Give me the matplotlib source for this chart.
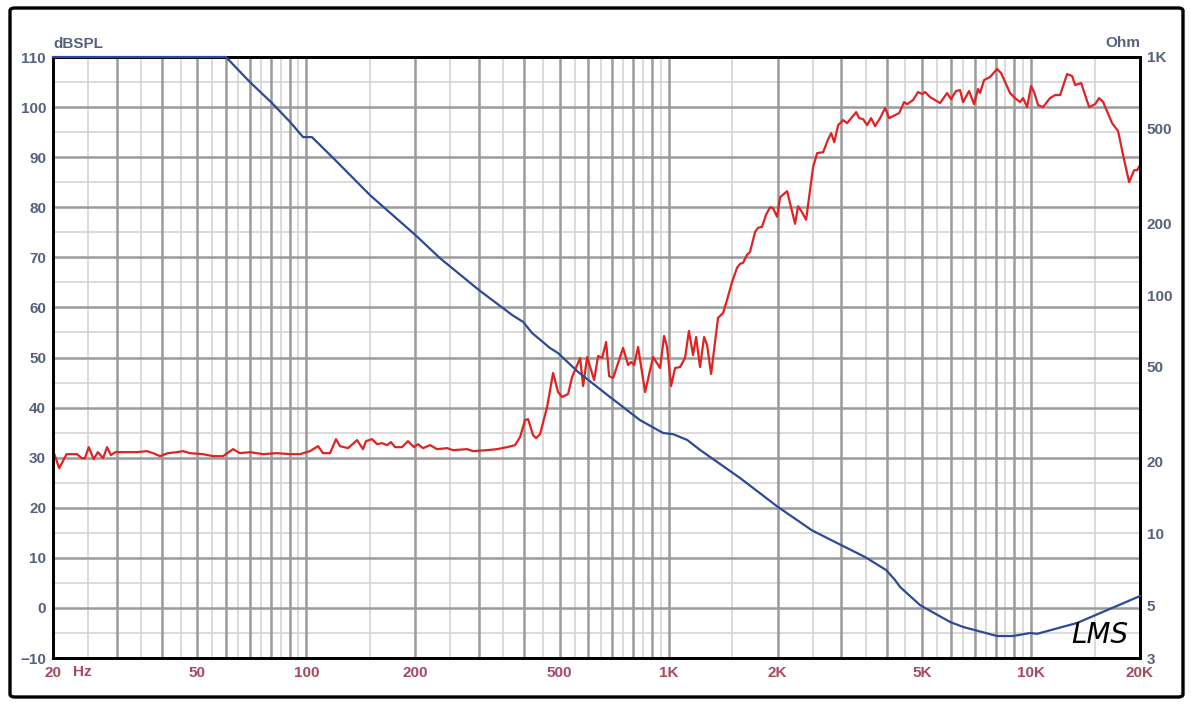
import matplotlib.pyplot as plt
from matplotlib.patches import FancyBboxPatch

# SPL response (red), frequency in Hz / level in dB
spl_freq = [20, 20.8, 21.8, 23.3, 24.0, 24.5, 25.1, 25.9, 26.6, 27.5, 28.2, 28.9, 29.7,
            32.0, 34.1, 36.3, 37.8, 39.5, 41.5, 44.0, 45.7, 47.8, 51.9, 55.3, 58.9, 62.8,
            65.6, 69.9, 76.0, 83.0, 90.2, 96.1, 102.4, 107.8, 111.2, 116.3, 120.8, 123.9,
            130.4, 138.1, 143.4, 146.2, 151.9, 156.8, 161.8, 167.1, 171.3, 175.8, 183.8,
            190.9, 198.3, 203.4, 210.0, 219.6, 229.6, 244.7, 254.2, 277.8, 288.6, 315.5,
            336.2, 358.3, 376.9, 389.0, 401.6, 409.4, 422.6, 430.8, 441.8, 462.0, 479.9,
            495.4, 508.1, 527.9, 541.5, 570.0, 580.9, 595.9, 622.9, 638.9, 655.3, 672.3,
            685.2, 702.9, 748.9, 773.1, 788.0, 803.2, 823.8, 861.3, 906.2, 947.4, 971.7,
            990.4, 1016, 1042, 1076, 1110, 1138, 1168, 1191, 1221, 1253, 1277, 1310, 1369,
            1414, 1450, 1497, 1545, 1575, 1605, 1646, 1678, 1733, 1766, 1811, 1858, 1906,
            1943, 1992, 2031, 2123, 2164, 2234, 2277, 2336, 2396, 2505, 2570, 2670, 2757,
            2810, 2865, 2938, 3032, 3110, 3293, 3356, 3442, 3531, 3622, 3715, 3835, 3959,
            4061, 4328, 4467, 4553, 4729, 4882, 5008, 5105, 5268, 5613, 5868, 6019, 6213,
            6373, 6496, 6749, 6967, 7146, 7237, 7424, 7712, 8064, 8272, 8758, 9041, 9333,
            9513, 9759, 10010, 10203, 10465, 10803, 11294, 11660, 12037, 12585, 12992,
            13242, 13758, 14477, 15039, 15424, 15822, 16750, 17401, 17965, 18665, 19268,
            19635, 20000]
spl_db = [31.5, 27.9, 30.7, 30.7, 29.9, 29.9, 32.1, 29.7, 31.1, 29.9, 32.1, 30.5, 31.1,
          31.1, 31.1, 31.3, 30.9, 30.3, 30.9, 31.1, 31.3, 30.9, 30.7, 30.3, 30.3, 31.7,
          30.9, 31.1, 30.7, 30.9, 30.7, 30.7, 31.3, 32.3, 30.9, 30.9, 33.7, 32.3,
          31.9, 33.5, 31.7, 33.3, 33.7, 32.7, 32.9, 32.5, 33.1, 32.1, 32.1,
          33.3, 32.1, 32.7, 31.9, 32.5, 31.7, 31.9, 31.5, 31.7, 31.3, 31.5,
          31.7, 32.1, 32.5, 34.1, 37.5, 37.7, 34.5, 33.9, 34.7, 40.1, 46.9,
          43.1, 42.1, 42.7, 46.1, 49.9, 44.3, 50.1, 45.5, 50.3, 49.9, 53.1,
          46.3, 45.9, 51.9, 48.5, 49.1, 48.5, 52.1, 43.1, 50.1, 47.9, 54.3,
          52.1, 44.3, 47.9, 48.1, 49.9, 55.3, 50.5, 54.1, 48.1, 54.1, 52.5, 46.7, 57.9,
          58.9, 61.5, 65.1, 67.9, 68.7, 68.9, 70.5, 71.1, 75.1, 75.9, 76.1, 78.5, 80.0,
          79.8, 78.1, 82.0, 83.2, 80.8, 76.7, 80.2, 79.0, 77.5, 88.0, 90.8, 91.0, 93.6,
          94.8, 93.0, 96.4, 97.4, 96.8, 99.0, 97.8, 97.6, 96.4, 97.8, 96.2, 97.8, 99.8,
          97.8, 98.8, 101.0, 100.6, 101.4, 103.0, 102.6, 103.0, 102.0, 100.8, 102.8, 101.6, 103.2,
          103.4, 101.0, 103.2, 100.6, 103.6, 102.8, 105.4, 106.0, 107.6, 106.8, 102.8, 101.8, 101.0,
          101.8, 100.0, 104.2, 103.0, 100.4, 100.0, 101.8, 102.4, 102.4, 106.6, 106.2,
          104.4, 104.8, 100.0, 100.6, 101.8, 101.0, 96.8, 95.2, 90.4, 85.0, 87.4,
          87.4, 88.4]

# impedance (blue), frequency in Hz / Ohm
imp_freq = [20, 60, 69.9, 80.4, 90.2, 98, 103.7, 118.6, 150, 200, 234, 300, 370, 397, 420,
            471, 495, 563, 689, 834, 966, 1029, 1125, 1222, 1574, 1992, 2488, 2992, 3486,
            3984, 4218, 4354, 4944, 5982, 6498, 8064, 8928, 9948, 10400, 13414, 15520, 20000]
imp_ohm = [1000, 1000, 785, 641, 534, 461, 461, 377, 263, 179, 143, 105, 82.6, 77.2, 69.4,
           60, 57.2, 47.6, 37.4, 29.9, 26.4, 26.1, 24.7, 22.4, 17.1, 13.0, 10.3, 8.94, 7.96,
           7.02, 6.37, 5.96, 5.0, 4.25, 4.05, 3.71, 3.71, 3.82, 3.79, 4.21, 4.63, 5.46]

x_ticks = [20, 50, 100, 200, 500, 1000, 2000, 5000, 10000, 20000]
x_labels = ["20", "50", "100", "200", "500", "1K", "2K", "5K", "10K", "20K"]
db_ticks = list(range(-10, 111, 10))
ohm_ticks = [3, 5, 10, 20, 50, 100, 200, 500, 1000]
ohm_labels = ["3", "5", "10", "20", "50", "100", "200", "500", "1K"]

W, H = 1191, 708
slate = '#56617c'
rose = '#a8485f'
fs = 11
plt.rcParams['font.family'] = ['Liberation Sans', 'DejaVu Sans']

fig = plt.figure(figsize=(W / 100, H / 100), dpi=100)
fig.patches.append(FancyBboxPatch((10 / W, 11 / H), 1173 / W, 689 / H,
                                  boxstyle="round,pad=0,rounding_size=0.004",
                                  transform=fig.transFigure, fill=False,
                                  edgecolor='black', linewidth=2.4))

ax = fig.add_axes([53 / W, 1 - 658 / H, 1087 / W, 601 / H])
ax.set_xscale('log')
ax.set_xlim(20, 20000)
ax.set_ylim(-10, 110)

# grid: dark at whole multiples, light at the half steps
for dec in [10, 100, 1000, 10000]:
    for m in range(1, 10):
        f = m * dec
        if 20 < f < 20000:
            ax.axvline(f, color='#9b9b9b', lw=1.8, zorder=0.6)
        h = (m + 0.5) * dec
        if 20 < h < 20000:
            ax.axvline(h, color='#d4d4d4', lw=1.2, zorder=0.5)
for v in range(-10, 111, 5):
    if v % 10 == 0:
        ax.axhline(v, color='#9b9b9b', lw=1.8, zorder=0.6)
    else:
        ax.axhline(v, color='#d4d4d4', lw=1.2, zorder=0.5)

ax.plot(spl_freq, spl_db, color='#e02222', lw=1.6, zorder=3)

ax.set_xticks(x_ticks)
ax.set_xticklabels(x_labels)
ax.xaxis.set_minor_locator(plt.NullLocator())
ax.set_yticks(db_ticks)
ax.tick_params(axis='both', length=0)
ax.tick_params(axis='x', pad=6, colors=rose, labelsize=fs)
ax.tick_params(axis='y', pad=5, colors=slate, labelsize=fs)
for lab in ax.get_xticklabels() + ax.get_yticklabels():
    lab.set_fontweight('bold')
for s in ax.spines.values():
    s.set_linewidth(2.0)
    s.set_color('black')

ax2 = ax.twinx()
ax2.set_yscale('log')
ax2.set_ylim(3, 1000)
ax2.plot(imp_freq, imp_ohm, color='#2c4a96', lw=1.6, zorder=4, clip_on=False)
ax2.set_yticks(ohm_ticks)
ax2.set_yticklabels(ohm_labels)
ax2.yaxis.set_minor_locator(plt.NullLocator())
ax2.tick_params(axis='y', length=0, pad=5, colors=slate, labelsize=fs)
for lab in ax2.get_yticklabels():
    lab.set_fontweight('bold')
for s in ax2.spines.values():
    s.set_linewidth(2.0)
    s.set_color('black')

fig.text(53 / W, 1 - 44 / H, "dBSPL", color=slate, fontsize=fs, fontweight='bold',
         ha='left', va='center')
fig.text(1140 / W, 1 - 43 / H, "Ohm", color=slate, fontsize=fs, fontweight='bold',
         ha='right', va='center')
fig.text(82 / W, 1 - 672 / H, "Hz", color=rose, fontsize=fs, fontweight='bold',
         ha='center', va='center')
fig.text(1100 / W, 1 - 635 / H, "LMS", color='black', fontsize=20, style='italic',
         family='DejaVu Sans', fontweight='light', ha='center', va='center')

fig.savefig('out.png', dpi=100)
